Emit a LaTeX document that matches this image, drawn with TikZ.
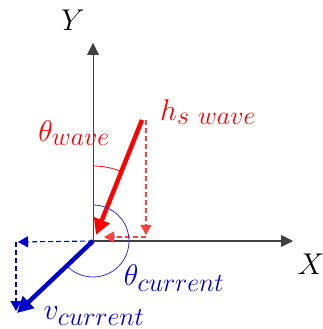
\RequirePackage{fix-cm}
\documentclass[tikz,border=0pt]{standalone}
\usetikzlibrary{arrows.meta}
\DeclareMathSizes{30}{30}{26}{20}
\definecolor{axisgray}{RGB}{64,64,64}
\definecolor{wavered}{RGB}{255,0,0}
\definecolor{curblue}{RGB}{0,0,205}
\definecolor{arcblue}{RGB}{50,50,215}
\tikzset{
  axis/.style={draw=axisgray, line width=1pt, -{Triangle[length=12pt,width=12pt]}},
  vec/.style={line width=4.5pt, -{Triangle[length=16pt,width=16pt]}},
  proj/.style={line width=1.1pt, dash pattern=on 5pt off 3pt, -{Triangle[length=10pt,width=11pt]}},
  lbl/.style={font=\fontsize{30}{36}\selectfont, inner sep=0pt}
}
\begin{document}
\begin{tikzpicture}[x=1pt,y=1pt]
    \useasboundingbox (-93,-88) rectangle (229,241);

    \coordinate (O) at (0,0);
    \coordinate (xend) at (200,0);
    \coordinate (yend) at (0,198);
    \draw[axis] (O) -- (xend);
    \draw[axis] (O) -- (yend);
    \node[lbl] (ylab) at (-20,221) {$Y$};
    \node[lbl] (xlab) at (218,-23) {$X$};

    \coordinate (hs) at (49,121);
    \coordinate (hstip) at (3,6);
    \coordinate (hstop) at (53,121);
    \coordinate (hsdown) at (53,6);
    \coordinate (hscorner) at (53,4);
    \coordinate (hsleft) at (11,4);
    \draw[proj, wavered!75] (hstop) -- (hsdown);
    \draw[proj, wavered!75] (hscorner) -- (hsleft);
    \draw[vec, wavered] (hs) -- (hstip);
    \draw[wavered, line width=0.8pt] (90:75) arc[start angle=90, end angle=68, radius=75];
    \node[lbl, text=wavered] (thetawave) at (-19,108) {$\theta_{wave}$};
    \node[lbl, text=wavered] (hslab) at (115,129) {$h_{s\ wave}$};

    \coordinate (vc) at (-76,-72);
    \coordinate (vleft) at (-75,-1);
    \coordinate (vcorner) at (-77,-1);
    \coordinate (vdown) at (-77,-70);
    \draw[proj, curblue] (O) -- (vleft);
    \draw[proj, curblue] (vcorner) -- (vdown);
    \draw[arcblue, line width=0.8pt] (90:36) arc[start angle=90, end angle=-136.5, radius=36];
    \draw[vec, curblue] (O) -- (vc);
    \node[lbl, text=curblue] (thetacur) at (81,-37) {$\theta_{current}$};
    \node[lbl, text=curblue] (vlab) at (1,-75) {$v_{current}$};
\end{tikzpicture}
\end{document}
